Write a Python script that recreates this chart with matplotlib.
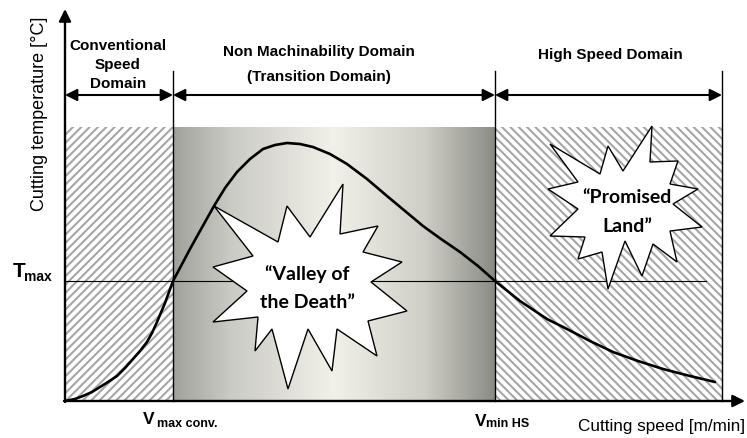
import matplotlib
matplotlib.use("Agg")
import matplotlib.pyplot as plt
import numpy as np
from matplotlib.patches import Rectangle, Polygon
from matplotlib.colors import LinearSegmentedColormap

plt.rcParams['font.family'] = ['Liberation Sans', 'DejaVu Sans']
plt.rcParams['hatch.linewidth'] = 1.5

# Cutting temperature curve (speed, temperature), arbitrary units
speed = [0, 10, 18, 27, 35, 43, 52, 60, 68, 75, 82, 87, 92, 100, 108, 116, 125,
         135, 149, 160, 172, 185, 198, 210, 222, 235, 248, 265, 282, 302, 322,
         340, 358, 376, 395, 413, 430, 455, 482, 502, 525, 548, 573, 598, 625, 650]
temp = [0, 2, 5, 9, 14, 19, 25, 33, 42, 50, 59, 68, 79, 98, 120, 135, 152,
        170, 195, 213, 229, 242, 252, 256, 258, 257, 254, 247, 237, 222, 205,
        190, 175, 162, 149, 135, 120, 100, 82, 72, 60, 49, 40, 32, 25, 19]

# domain limits
v_max_conv = 108
v_min_hs = 430
v_end = 657
t_max = 120
domain_top = 274

# starburst outlines
valley_x = [149, 213, 222, 245, 278, 275, 313, 298, 337, 306, 342, 303, 312, 272,
            267, 243, 223, 207, 190, 193, 148, 182, 148, 188]
valley_y = [195, 159, 195, 164, 217, 167, 175, 149, 139, 119, 90, 80, 45, 72,
            30, 72, 12, 72, 50, 84, 79, 110, 134, 145]
promised_x = [587, 585, 613, 605, 633, 608, 637, 605, 612, 588, 577, 560, 543, 537,
              513, 520, 485, 513, 483, 513, 485, 535, 543, 558]
promised_y = [275, 239, 240, 217, 212, 197, 174, 170, 139, 157, 125, 160, 112, 149,
              142, 164, 165, 192, 212, 219, 257, 227, 255, 230]

fig = plt.figure(figsize=(7.47, 4.39), dpi=100)
ax = fig.add_axes([0, 0, 1, 1])
ax.set_xlim(-65, 682)
ax.set_ylim(-37, 402)
ax.axis('off')

# hatched domains
ax.add_patch(Rectangle((0, 0), v_max_conv, domain_top, facecolor='white',
                       edgecolor='#a6a6a6', hatch='////', lw=0, zorder=1))
ax.add_patch(Rectangle((v_min_hs, 0), v_end - v_min_hs, domain_top, facecolor='white',
                       edgecolor='#a6a6a6', hatch='\\\\\\\\', lw=0, zorder=1))

# shaded transition domain
cmap = LinearSegmentedColormap.from_list('steel', [
    (0.0, '#a2a29c'), (0.18, '#cbcbc5'), (0.5, '#f1f0e9'),
    (0.78, '#cfcfc8'), (1.0, '#8c8c86')])
grad = np.linspace(0, 1, 256).reshape(1, -1)
ax.imshow(grad, cmap=cmap, extent=[v_max_conv, v_min_hs, 0, domain_top],
          aspect='auto', zorder=1)

# divider lines
for xv in [v_max_conv, v_min_hs, v_end]:
    ax.plot([xv, xv], [0, 330], color='black', lw=1.0, zorder=3)

# T max line
ax.plot([0, 641], [t_max, t_max], color='black', lw=0.8, zorder=2)

# domain arrows
arr = dict(arrowstyle='<|-|>', color='black', lw=1.5, mutation_scale=18,
           shrinkA=0, shrinkB=0)
for a, b in [(0, v_max_conv), (v_max_conv, v_min_hs), (v_min_hs, v_end)]:
    ax.annotate('', xy=(b, 306), xytext=(a, 306), arrowprops=arr, zorder=4)

# axes with arrows
axarr = dict(arrowstyle='-|>', color='black', lw=1.7, mutation_scale=18,
             shrinkA=0, shrinkB=0)
ax.annotate('', xy=(0, 392), xytext=(0, -1), arrowprops=axarr, zorder=6)
ax.annotate('', xy=(680, 0), xytext=(-1, 0), arrowprops=axarr, zorder=6)

# stars
ax.add_patch(Polygon(np.column_stack([valley_x, valley_y]), closed=True,
                     facecolor='white', edgecolor='black', lw=1.0, zorder=4))
ax.add_patch(Polygon(np.column_stack([promised_x, promised_y]), closed=True,
                     facecolor='white', edgecolor='black', lw=1.0, zorder=4))

# curve
ax.plot(speed, temp, color='black', lw=1.9, zorder=5, solid_capstyle='round',
        solid_joinstyle='round')

# headers
hdr = dict(fontsize=11, fontweight='bold', ha='center', va='baseline')
ax.text(53, 352, 'Conventional', **hdr)
ax.text(53, 333, 'Speed', **hdr)
ax.text(53, 314, 'Domain', **hdr)
ax.text(254, 346, 'Non Machinability Domain', **hdr)
ax.text(254, 321, '(Transition Domain)', **hdr)
ax.text(545, 343.5, 'High Speed Domain', **hdr)

# star labels
star = dict(fontsize=14, fontweight='bold', ha='center', va='baseline',
            family=['Lato', 'DejaVu Sans'], zorder=7)
ax.text(242, 122, '\u201cValley of', **star)
ax.text(242, 94, 'the Death\u201d', **star)
ax.text(562, 199, '\u201cPromised', **star)
ax.text(562, 170, 'Land\u201d', **star)

# axis symbols
ax.text(-52, 125, 'T', fontsize=15, fontweight='bold', ha='left', va='baseline')
ax.text(-41, 121, 'max', fontsize=10, fontweight='bold', ha='left', va='baseline')
ax.text(78, -22, 'V', fontsize=12.5, fontweight='bold', ha='left', va='baseline')
ax.text(92, -25, 'max conv.', fontsize=9, fontweight='bold', ha='left', va='baseline')
ax.text(410, -24, 'V', fontsize=12.5, fontweight='bold', ha='left', va='baseline')
ax.text(421, -25, 'min HS', fontsize=9, fontweight='bold', ha='left', va='baseline')

# axis labels
ax.text(513, -29, 'Cutting speed [m/min]', fontsize=12.3, ha='left', va='baseline')
ax.text(-25, 288, 'Cutting temperature [\u00b0C]', fontsize=13, rotation=90,
        ha='center', va='center')

fig.savefig('out.png', dpi=100)
